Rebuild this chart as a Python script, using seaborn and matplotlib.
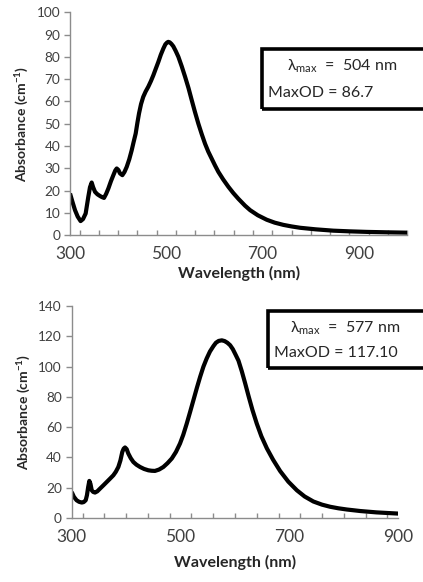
import numpy as np
import pandas as pd
import matplotlib
matplotlib.use("Agg")
import matplotlib.pyplot as plt
from matplotlib.patches import Rectangle
from matplotlib.ticker import MultipleLocator
import seaborn as sns

# espectro 1 (lambda max 504 nm)
wl_a = [300, 305, 310.4, 316, 322, 327, 332.5, 338, 341.5, 345, 348, 352, 357, 362, 366, 370.6,
        375, 379.6, 385, 390, 394, 397, 400.5, 403.8, 408.7, 413, 417.7, 423, 428, 432, 436.4,
        440, 443.3, 447.5, 452, 457, 462.6, 468, 473, 478, 483.4, 488.5, 493.8, 498, 501.5, 504,
        507, 510.5, 514.5, 519.5, 525, 532, 539, 546, 552.8, 559.5, 566.5, 573.5, 580.4, 587, 594,
        601, 608, 618, 628.8, 639, 649.6, 663.5, 674, 690, 708.5, 725, 743, 760, 777.7, 810,
        846.7, 880, 916, 960, 1000]
abs_a = [18.7, 15.0, 11.2, 8.3, 6.3, 7.2, 9.7, 17.2, 21.5, 23.6, 21.5, 19.4, 18.3, 17.6, 17.1, 16.7,
         18.5, 20.9, 24.2, 26.9, 29.0, 29.9, 29.2, 27.7, 26.9, 28.3, 30.6, 34.0, 38.0, 41.7, 45.6,
         50.5, 54.6, 58.8, 62.0, 64.4, 66.6, 69.1, 71.7, 74.6, 77.7, 80.9, 83.7, 85.6, 86.4, 86.7,
         86.5, 85.8, 84.7, 82.6, 80.0, 75.7, 71.0, 66.0, 60.5, 55.2, 50.0, 45.3, 41.0, 37.5, 34.4,
         31.3, 28.4, 25.0, 21.7, 18.9, 16.3, 13.2, 11.2, 8.9, 6.9, 5.6, 4.6, 3.9, 3.3, 2.6,
         2.0, 1.7, 1.45, 1.25, 1.1]

# espectro 2 (lambda max 577 nm)
wl_b = [300, 304, 309, 313.5, 318.4, 322, 325.7, 328, 330.3, 332.4, 334.5, 336.8, 339.5, 342.8, 347,
        352, 358, 364.4, 370.5, 376.5, 381, 385.7, 389.5, 393, 395.5, 398, 401, 404, 408.5, 413.3,
        419, 425.6, 433, 440.9, 447, 453, 460.5, 468.4, 476, 483.9, 491.5, 499, 505, 511.4, 517.5,
        523.6, 530, 536, 542, 548, 554, 560.4, 565, 570, 575.8, 581, 586, 591, 596, 601, 606.4,
        612.5, 618.7, 625, 632, 640, 648.5, 658.6, 670, 683, 698, 713.7, 728, 744, 760, 775,
        790, 805.6, 830, 860, 900]
abs_b = [17.2, 14.0, 11.7, 10.7, 10.2, 10.5, 11.7, 15.0, 20.5, 24.5, 22.5, 18.3, 17.2, 16.8, 17.6,
         19.4, 21.5, 23.8, 26.0, 28.2, 30.5, 33.7, 38.0, 43.7, 45.8, 46.6, 45.5, 42.6, 39.5, 37.0,
         35.2, 33.7, 32.4, 31.5, 31.2, 31.1, 32.0, 33.7, 36.2, 39.3, 43.6, 49.2, 55.0, 62.4, 70.0,
         77.8, 86.0, 93.3, 100.0, 105.4, 110.0, 113.6, 115.8, 117.0, 117.4, 116.9, 115.8, 114.2, 111.6, 108.0, 104.0,
         97.0, 89.0, 80.5, 71.5, 62.4, 54.0, 46.0, 38.5, 31.0, 24.0, 18.3, 14.2, 10.9, 8.8, 7.4,
         6.4, 5.6, 4.6, 3.7, 2.9]

paineis = [
    dict(wl=wl_a, ab=abs_a, xlim=(300, 1000), ylim=(0, 100), ystep=10,
         rect=[0.1655, 0.596, 0.797, 0.383], lam="504 nm", od="86.7",
         box=(262, 49, 109), lam_y=66, od_y=93, od_x=268, xlpad=3),
    dict(wl=wl_b, ab=abs_b, xlim=(300, 900), ylim=(0, 140), ystep=20,
         rect=[0.1695, 0.110, 0.772, 0.364], lam="577 nm", od="117.10",
         box=(268, 311, 368), lam_y=328, od_y=353, od_x=274, xlpad=7),
]

sns.set_style("white")
plt.rcParams['font.family'] = ['Lato', 'DejaVu Sans']
plt.rcParams['mathtext.default'] = 'regular'

W, H = 423, 582
fig = plt.figure(figsize=(W / 100, H / 100), dpi=100)

cinza = "#8c8c8c"
texto = "#404040"

for p in paineis:
    ax = fig.add_axes(p["rect"])
    df = pd.DataFrame({"wl": p["wl"], "ab": p["ab"]})
    sns.lineplot(data=df, x="wl", y="ab", sort=False, color="black",
                 linewidth=3.0, ax=ax, solid_joinstyle="round", solid_capstyle="butt")
    ax.set_xlim(*p["xlim"])
    ax.set_ylim(*p["ylim"])
    ax.set_xticks(np.arange(300, p["xlim"][1] + 1, 200))
    ax.xaxis.set_minor_locator(MultipleLocator(40))
    ax.yaxis.set_major_locator(MultipleLocator(p["ystep"]))
    for s in ["top", "right"]:
        ax.spines[s].set_visible(False)
    for s in ["left", "bottom"]:
        ax.spines[s].set_color(cinza)
        ax.spines[s].set_linewidth(1.0)
    ax.tick_params(axis="x", which="major", direction="inout", length=6, width=1.0,
                   color=cinza, labelsize=12.5, labelcolor=texto, pad=5)
    ax.tick_params(axis="x", which="minor", direction="in", length=3.5, width=1.0,
                   color=cinza, bottom=True)
    ax.tick_params(axis="y", which="major", direction="out", length=4, width=1.0,
                   color=cinza, labelsize=9.8, labelcolor=texto, pad=3, left=True)
    ax.set_xlabel("Wavelength (nm)", fontsize=11.5, fontweight="bold", color="#262626",
                  labelpad=p["xlpad"])
    ax.set_ylabel("Absorbance (cm$^{-1}$)", fontsize=10, fontweight="bold", color="#262626", labelpad=4)
    ax.patch.set_alpha(0)

    x0, y0, y1 = p["box"]
    fig.patches.append(Rectangle((x0 / W, 1 - y1 / H), (W + 10 - x0) / W, (y1 - y0) / H,
                                 transform=fig.transFigure, fill=False, edgecolor="black",
                                 linewidth=2.6, clip_on=False))
    fig.text((x0 + W) / 2 / W, 1 - p["lam_y"] / H, "λ$_{max}$  =  " + p["lam"], ha="center", va="center",
             fontsize=11.5, color="#262626")
    fig.text(p["od_x"] / W, 1 - p["od_y"] / H, "MaxOD = " + p["od"], ha="left", va="center",
             fontsize=11.5, color="#262626")

fig.savefig("out.png", dpi=100)
